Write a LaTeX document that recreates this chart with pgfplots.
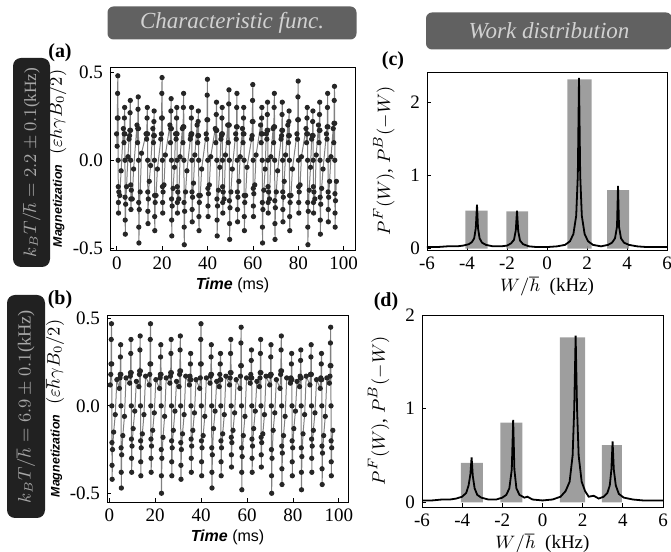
\documentclass[border=0pt]{standalone}
\usepackage{fontspec}
\setmainfont{Liberation Serif}
\setsansfont{Liberation Sans}
\usepackage{pgfplots}
\pgfplotsset{compat=1.18}
\definecolor{hdr}{gray}{0.38}
\definecolor{side}{gray}{0.13}
\definecolor{htext}{gray}{0.82}
\definecolor{bargray}{gray}{0.58}
\begin{document}
\begin{tikzpicture}
\path[use as bounding box] (0,0) rectangle (335.5pt,276pt);
\pgfplotsset{
  every axis/.append style={
    scale only axis, anchor=south west,
    axis line style={black, thin},
    tick style={black, thin},
    major tick length=2pt,
    tick align=inside,
    tick label style={font=\fontsize{9.5}{10}\selectfont},
    /pgf/number format/assume math mode=true,
    xtick pos=bottom, ytick pos=left,
    clip=true,
  },
  magn/.style={
    ytick={-0.5,0,0.5}, yticklabels={-0.5,0.0,0.5},
    xtick={0,20,40,60,80,100},
    ylabel={{\sffamily\bfseries\itshape\fontsize{6.2}{7}\selectfont Magnetization}\ \ {\fontsize{9}{10}\selectfont$(\varepsilon\hbar\gamma B_0/2)$}},
    xlabel={\sffamily\fontsize{8}{9}\selectfont\textbf{\textit{Time}} (ms)},
    xlabel style={yshift=3pt},
    ylabel style={at={(axis description cs:-0.215,0.5)}, anchor=center},
  },
  work/.style={
    xmin=-6, xmax=6, xtick={-6,-4,-2,0,2,4,6},
    ytick={0,1,2},
    ylabel={\fontsize{9.5}{10}\selectfont$P^F(W)$, $P^B(-W)$},
    xlabel={\fontsize{9.5}{10}\selectfont$W/\hbar$\ \ (kHz)},
    xlabel style={yshift=3pt},
    ylabel style={at={(axis description cs:-0.18,0.5)}, anchor=center},
  },
  sig/.style={color=black!50, line width=0.5pt, mark=*, mark size=1.05pt,
    mark options={fill=black!85, draw=black!85}},
  spk/.style={black, line width=0.9pt},
  bar/.style={fill=bargray, draw=none, opacity=0.9},
}
% ---------------- (a)
\begin{axis}[magn, at={(55pt,151pt)}, width=122.5pt, height=91.5pt,
  xmin=-3, xmax=105, ymin=-0.51, ymax=0.53]
\addplot[sig] coordinates {
(-0.1,0.15)(0.15,0.08)(0.25,0.24)(0.35,0.38)(0.45,0.48)(0.55,0.24)(0.6,0)(0.65,-0.15)(0.7,-0.24)(0.75,-0.30)(0.9,-0.18)(1.3,-0.20)(1.9,-0.06)
(2.9,0.18)(3.15,0.10)(3.25,0.15)(3.35,0.24)(3.45,0.30)(3.55,0.15)(3.6,0)(3.65,-0.21)(3.7,-0.34)(3.75,-0.42)(3.9,-0.25)(4.3,-0.15)(4.9,0.02)
(5.4,0.12)(5.65,0.14)(5.75,0.17)(5.85,0.27)(5.95,0.34)(6.05,0.17)(6.1,0)(6.15,-0.14)(6.2,-0.22)(6.25,-0.28)(6.4,-0.17)(6.8,-0.22)(7.4,-0.05)
(8.9,0.20)(9.15,0.10)(9.25,0.18)(9.35,0.29)(9.45,0.36)(9.55,0.18)(9.6,0)(9.65,-0.24)(9.7,-0.38)(9.75,-0.47)(9.9,-0.28)(10.3,-0.18)(10.9,0.04)
(12.9,0.15)(13.15,0.12)(13.25,0.15)(13.35,0.24)(13.45,0.30)(13.55,0.15)(13.6,0)(13.65,-0.18)(13.7,-0.29)(13.75,-0.36)(13.9,-0.22)(14.3,-0.12)(14.9,-0.03)
(15.9,0.18)(16.15,0.10)(16.25,0.14)(16.35,0.22)(16.45,0.28)(16.55,0.14)(16.6,0)(16.65,-0.20)(16.7,-0.32)(16.75,-0.40)(16.9,-0.24)(17.3,-0.20)(17.9,-0.05)
(19.4,0.12)(19.65,0.15)(19.75,0.24)(19.85,0.38)(19.95,0.47)(20.05,0.24)(20.1,0)(20.15,-0.15)(20.2,-0.24)(20.25,-0.30)(20.4,-0.18)(20.8,-0.14)(21.4,0.03)
(23.4,0.20)(23.65,0.10)(23.75,0.18)(23.85,0.28)(23.95,0.35)(24.05,0.18)(24.1,0)(24.15,-0.22)(24.2,-0.34)(24.25,-0.43)(24.4,-0.26)(24.8,-0.16)(25.4,-0.04)
(25.9,0.15)(26.15,0.12)(26.25,0.15)(26.35,0.24)(26.45,0.30)(26.55,0.15)(26.6,0)(26.65,-0.15)(26.7,-0.24)(26.75,-0.30)(26.9,-0.18)(27.3,-0.22)(27.9,0.02)
(28.9,0.18)(29.15,0.10)(29.25,0.19)(29.35,0.30)(29.45,0.38)(29.55,0.19)(29.6,0)(29.65,-0.24)(29.7,-0.38)(29.75,-0.48)(29.9,-0.29)(30.3,-0.18)(30.9,-0.06)
(32.4,0.12)(32.65,0.14)(32.75,0.15)(32.85,0.24)(32.95,0.30)(33.05,0.15)(33.1,0)(33.15,-0.18)(33.2,-0.28)(33.25,-0.35)(33.4,-0.21)(33.8,-0.13)(34.4,0.03)
(35.4,0.20)(35.65,0.10)(35.75,0.14)(35.85,0.22)(35.95,0.28)(36.05,0.14)(36.1,0)(36.15,-0.20)(36.2,-0.32)(36.25,-0.40)(36.4,-0.24)(36.8,-0.20)(37.4,-0.05)
(39.4,0.15)(39.65,0.12)(39.75,0.23)(39.85,0.37)(39.95,0.46)(40.05,0.23)(40.1,0)(40.15,-0.16)(40.2,-0.26)(40.25,-0.32)(40.4,-0.19)(40.8,-0.14)(41.4,0.02)
(43.4,0.18)(43.65,0.10)(43.75,0.17)(43.85,0.26)(43.95,0.33)(44.05,0.17)(44.1,0)(44.15,-0.22)(44.2,-0.34)(44.25,-0.43)(44.4,-0.26)(44.8,-0.17)(45.4,-0.04)
(45.9,0.12)(46.15,0.14)(46.25,0.15)(46.35,0.24)(46.45,0.30)(46.55,0.15)(46.6,0)(46.65,-0.15)(46.7,-0.24)(46.75,-0.30)(46.9,-0.18)(47.3,-0.22)(47.9,0.03)
(48.9,0.20)(49.15,0.10)(49.25,0.20)(49.35,0.32)(49.45,0.40)(49.55,0.20)(49.6,0)(49.65,-0.23)(49.7,-0.36)(49.75,-0.45)(49.9,-0.27)(50.3,-0.18)(50.9,-0.05)
(52.4,0.15)(52.65,0.12)(52.75,0.19)(52.85,0.30)(52.95,0.38)(53.05,0.19)(53.1,0)(53.15,-0.18)(53.2,-0.28)(53.25,-0.35)(53.4,-0.21)(53.8,-0.12)(54.4,0.02)
(55.4,0.18)(55.65,0.10)(55.75,0.15)(55.85,0.24)(55.95,0.30)(56.05,0.15)(56.1,0)(56.15,-0.20)(56.2,-0.32)(56.25,-0.40)(56.4,-0.24)(56.8,-0.20)(57.4,-0.04)
(59.4,0.12)(59.65,0.14)(59.75,0.22)(59.85,0.34)(59.95,0.43)(60.05,0.22)(60.1,0)(60.15,-0.16)(60.2,-0.26)(60.25,-0.32)(60.4,-0.19)(60.8,-0.14)(61.4,0.03)
(63.4,0.20)(63.65,0.10)(63.75,0.15)(63.85,0.24)(63.95,0.30)(64.05,0.15)(64.1,0)(64.15,-0.24)(64.2,-0.38)(64.25,-0.47)(64.4,-0.28)(64.8,-0.17)(65.4,-0.05)
(65.9,0.15)(66.15,0.12)(66.25,0.17)(66.35,0.26)(66.45,0.33)(66.55,0.17)(66.6,0)(66.65,-0.15)(66.7,-0.24)(66.75,-0.30)(66.9,-0.18)(67.3,-0.22)(67.9,0.02)
(68.9,0.18)(69.15,0.10)(69.25,0.19)(69.35,0.30)(69.45,0.38)(69.55,0.19)(69.6,0)(69.65,-0.23)(69.7,-0.36)(69.75,-0.45)(69.9,-0.27)(70.3,-0.18)(70.9,-0.06)
(72.4,0.12)(72.65,0.14)(72.75,0.17)(72.85,0.26)(72.95,0.33)(73.05,0.17)(73.1,0)(73.15,-0.18)(73.2,-0.28)(73.25,-0.35)(73.4,-0.21)(73.8,-0.12)(74.4,0.03)
(75.4,0.20)(75.65,0.10)(75.75,0.14)(75.85,0.22)(75.95,0.28)(76.05,0.14)(76.1,0)(76.15,-0.20)(76.2,-0.32)(76.25,-0.40)(76.4,-0.24)(76.8,-0.20)(77.4,-0.05)
(79.4,0.15)(79.65,0.12)(79.75,0.23)(79.85,0.36)(79.95,0.45)(80.05,0.23)(80.1,0)(80.15,-0.15)(80.2,-0.24)(80.25,-0.30)(80.4,-0.18)(80.8,-0.14)(81.4,0.02)
(83.4,0.18)(83.65,0.10)(83.75,0.15)(83.85,0.24)(83.95,0.30)(84.05,0.15)(84.1,0)(84.15,-0.24)(84.2,-0.38)(84.25,-0.48)(84.4,-0.29)(84.8,-0.17)(85.4,-0.04)
(85.9,0.12)(86.15,0.14)(86.25,0.14)(86.35,0.22)(86.45,0.28)(86.55,0.14)(86.6,0)(86.65,-0.15)(86.7,-0.24)(86.75,-0.30)(86.9,-0.18)(87.3,-0.22)(87.9,0.03)
(88.9,0.20)(89.15,0.10)(89.25,0.17)(89.35,0.26)(89.45,0.33)(89.55,0.17)(89.6,0)(89.65,-0.21)(89.7,-0.34)(89.75,-0.42)(89.9,-0.25)(90.3,-0.16)(90.9,-0.05)
(92.4,0.15)(92.65,0.12)(92.75,0.19)(92.85,0.30)(92.95,0.38)(93.05,0.19)(93.1,0)(93.15,-0.18)(93.2,-0.28)(93.25,-0.35)(93.4,-0.21)(93.8,-0.12)(94.4,0.02)
(95.4,0.18)(95.65,0.10)(95.75,0.21)(95.85,0.34)(95.95,0.42)(96.05,0.21)(96.1,0)(96.15,-0.19)(96.2,-0.30)(96.25,-0.38)(96.4,-0.23)(96.8,-0.12)
};
\end{axis}
% ---------------- (b)
\begin{axis}[magn, at={(53.5pt,25pt)}, width=120.5pt, height=93.5pt,
  xmin=-1, xmax=104, ymin=-0.55, ymax=0.52]
\addplot[sig] coordinates {
(0.4,0.12)(0.65,0.18)(0.75,0.24)(0.85,0.38)(0.95,0.47)(1.05,0.24)(1.1,0)(1.15,-0.21)(1.2,-0.34)(1.25,-0.42)(1.4,-0.25)(1.9,-0.15)(2.6,-0.05)(3.3,0.15)
(4.4,0.10)(4.65,0.16)(4.75,0.18)(4.85,0.28)(4.95,0.35)(5.05,0.18)(5.1,0)(5.15,-0.24)(5.2,-0.38)(5.25,-0.47)(5.4,-0.28)(5.9,-0.17)(6.6,-0.06)(7.3,0.16)
(8.9,0.13)(9.15,0.17)(9.25,0.19)(9.35,0.30)(9.45,0.38)(9.55,0.19)(9.6,0)(9.65,-0.19)(9.7,-0.30)(9.75,-0.38)(9.9,-0.23)(10.4,-0.13)(11.1,-0.03)(11.8,0.14)
(12.9,0.11)(13.15,0.18)(13.25,0.20)(13.35,0.32)(13.45,0.40)(13.55,0.20)(13.6,0)(13.65,-0.20)(13.7,-0.32)(13.75,-0.40)(13.9,-0.24)(14.4,-0.16)(15.1,-0.05)(15.8,0.17)
(17.4,0.12)(17.65,0.18)(17.75,0.24)(17.85,0.38)(17.95,0.47)(18.05,0.24)(18.1,0)(18.15,-0.19)(18.2,-0.30)(18.25,-0.38)(18.4,-0.23)(18.9,-0.14)(19.6,-0.04)(20.3,0.15)
(21.9,0.10)(22.15,0.16)(22.25,0.18)(22.35,0.28)(22.45,0.35)(22.55,0.18)(22.6,0)(22.65,-0.25)(22.7,-0.40)(22.75,-0.50)(22.9,-0.30)(23.4,-0.18)(24.1,-0.06)(24.8,0.16)
(26.4,0.13)(26.65,0.17)(26.75,0.19)(26.85,0.30)(26.95,0.38)(27.05,0.19)(27.1,0)(27.15,-0.20)(27.2,-0.32)(27.25,-0.40)(27.4,-0.24)(27.9,-0.14)(28.6,-0.03)(29.3,0.14)
(30.4,0.11)(30.65,0.18)(30.75,0.20)(30.85,0.32)(30.95,0.40)(31.05,0.20)(31.1,0)(31.15,-0.21)(31.2,-0.34)(31.25,-0.42)(31.4,-0.25)(31.9,-0.16)(32.6,-0.05)(33.3,0.17)
(34.9,0.12)(35.15,0.17)(35.25,0.15)(35.35,0.24)(35.45,0.30)(35.55,0.15)(35.6,0)(35.65,-0.19)(35.7,-0.30)(35.75,-0.38)(35.9,-0.23)(36.4,-0.14)(37.1,-0.04)(37.8,0.15)
(39.4,0.10)(39.65,0.16)(39.75,0.24)(39.85,0.38)(39.95,0.47)(40.05,0.24)(40.1,0)(40.15,-0.20)(40.2,-0.32)(40.25,-0.40)(40.4,-0.24)(40.9,-0.17)(41.6,-0.06)(42.3,0.16)
(43.9,0.13)(44.15,0.17)(44.25,0.18)(44.35,0.28)(44.45,0.35)(44.55,0.18)(44.6,0)(44.65,-0.24)(44.7,-0.38)(44.75,-0.47)(44.9,-0.28)(45.4,-0.13)(46.1,-0.03)(46.8,0.14)
(47.9,0.11)(48.15,0.18)(48.25,0.15)(48.35,0.24)(48.45,0.30)(48.55,0.15)(48.6,0)(48.65,-0.20)(48.7,-0.32)(48.75,-0.40)(48.9,-0.24)(49.4,-0.16)(50.1,-0.05)(50.8,0.17)
(52.4,0.12)(52.65,0.16)(52.75,0.19)(52.85,0.30)(52.95,0.38)(53.05,0.19)(53.1,0)(53.15,-0.18)(53.2,-0.28)(53.25,-0.35)(53.4,-0.21)(53.9,-0.14)(54.6,-0.04)(55.3,0.15)
(56.9,0.10)(57.15,0.17)(57.25,0.23)(57.35,0.36)(57.45,0.45)(57.55,0.23)(57.6,0)(57.65,-0.24)(57.7,-0.38)(57.75,-0.48)(57.9,-0.29)(58.4,-0.17)(59.1,-0.06)(59.8,0.16)
(61.4,0.13)(61.65,0.18)(61.75,0.16)(61.85,0.26)(61.95,0.32)(62.05,0.16)(62.1,0)(62.15,-0.19)(62.2,-0.30)(62.25,-0.38)(62.4,-0.23)(62.9,-0.13)(63.6,-0.03)(64.3,0.14)
(65.4,0.11)(65.65,0.16)(65.75,0.19)(65.85,0.30)(65.95,0.38)(66.05,0.19)(66.1,0)(66.15,-0.18)(66.2,-0.28)(66.25,-0.35)(66.4,-0.21)(66.9,-0.16)(67.6,-0.05)(68.3,0.17)
(69.9,0.12)(70.15,0.17)(70.25,0.18)(70.35,0.28)(70.45,0.35)(70.55,0.18)(70.6,0)(70.65,-0.25)(70.7,-0.40)(70.75,-0.50)(70.9,-0.30)(71.4,-0.14)(72.1,-0.04)(72.8,0.15)
(74.4,0.10)(74.65,0.18)(74.75,0.20)(74.85,0.32)(74.95,0.40)(75.05,0.20)(75.1,0)(75.15,-0.23)(75.2,-0.36)(75.25,-0.45)(75.4,-0.27)(75.9,-0.17)(76.6,-0.06)(77.3,0.16)
(78.9,0.13)(79.15,0.16)(79.25,0.15)(79.35,0.24)(79.45,0.30)(79.55,0.15)(79.6,0)(79.65,-0.20)(79.7,-0.32)(79.75,-0.40)(79.9,-0.24)(80.4,-0.13)(81.1,-0.03)(81.8,0.14)
(82.9,0.11)(83.15,0.17)(83.25,0.16)(83.35,0.26)(83.45,0.32)(83.55,0.16)(83.6,0)(83.65,-0.24)(83.7,-0.38)(83.75,-0.48)(83.9,-0.29)(84.4,-0.16)(85.1,-0.05)(85.8,0.17)
(87.4,0.12)(87.65,0.18)(87.75,0.18)(87.85,0.28)(87.95,0.35)(88.05,0.18)(88.1,0)(88.15,-0.19)(88.2,-0.30)(88.25,-0.38)(88.4,-0.23)(88.9,-0.14)(89.6,-0.04)(90.3,0.15)
(91.9,0.10)(92.15,0.16)(92.25,0.15)(92.35,0.24)(92.45,0.30)(92.55,0.15)(92.6,0)(92.65,-0.23)(92.7,-0.36)(92.75,-0.45)(92.9,-0.27)(93.4,-0.17)(94.1,-0.06)(94.8,0.16)
(95.9,0.13)(96.15,0.17)(96.25,0.23)(96.35,0.36)(96.45,0.45)(96.55,0.23)(96.6,0)(96.65,-0.20)(96.7,-0.32)(96.75,-0.40)(96.9,-0.24)(97.4,-0.14)
};
\end{axis}
% ---------------- (c)
\begin{axis}[work, at={(213.5pt,151pt)}, width=120pt, height=89pt,
  ymin=-0.02, ymax=2.42]
\addplot[bar] coordinates {(-4.08,0)(-4.08,0.52)(-2.97,0.52)(-2.97,0)} \closedcycle;
\addplot[bar] coordinates {(-2.03,0)(-2.03,0.51)(-0.95,0.51)(-0.95,0)} \closedcycle;
\addplot[bar] coordinates {(1.02,0)(1.02,2.32)(2.23,2.32)(2.23,0)} \closedcycle;
\addplot[bar] coordinates {(3.0,0)(3.0,0.80)(4.1,0.80)(4.1,0)} \closedcycle;
\addplot[spk] coordinates {
(-6,0.02)(-5.5,0.02)(-5,0.03)(-4.5,0.03)(-4.2,0.04)(-3.9,0.06)(-3.75,0.09)(-3.64,0.14)(-3.56,0.28)(-3.5,0.60)(-3.45,0.28)(-3.37,0.14)(-3.25,0.08)(-3.05,0.05)(-2.7,0.03)(-2.3,0.03)(-2.0,0.04)(-1.8,0.07)(-1.65,0.12)(-1.56,0.25)(-1.5,0.52)(-1.44,0.24)(-1.35,0.11)(-1.2,0.06)(-0.9,0.03)(-0.5,0.02)(0,0.02)(0.5,0.03)(0.9,0.05)(1.15,0.10)(1.32,0.2)(1.46,0.45)(1.54,1.0)(1.6,2.34)(1.66,1.0)(1.74,0.45)(1.88,0.2)(2.05,0.10)(2.3,0.05)(2.7,0.03)(3.05,0.05)(3.25,0.08)(3.4,0.14)(3.5,0.3)(3.55,0.86)(3.6,0.3)(3.7,0.14)(3.85,0.08)(4.1,0.05)(4.5,0.03)(5,0.02)(5.5,0.02)(6,0.02)
};
\end{axis}
% ---------------- (d)
\begin{axis}[work, at={(211pt,22.5pt)}, width=120.5pt, height=96pt,
  ymin=-0.05, ymax=2.0]
\addplot[bar] coordinates {(-4.06,0)(-4.06,0.42)(-2.97,0.42)(-2.97,0)} \closedcycle;
\addplot[bar] coordinates {(-2.1,0)(-2.1,0.85)(-1.0,0.85)(-1.0,0)} \closedcycle;
\addplot[bar] coordinates {(0.87,0)(0.87,1.76)(2.12,1.76)(2.12,0)} \closedcycle;
\addplot[bar] coordinates {(2.96,0)(2.96,0.61)(3.95,0.61)(3.95,0)} \closedcycle;
\addplot[spk] coordinates {
(-6,0.02)(-5.5,0.02)(-5,0.03)(-4.6,0.03)(-4.3,0.04)(-4.0,0.06)(-3.8,0.10)(-3.68,0.18)(-3.59,0.30)(-3.53,0.48)(-3.47,0.28)(-3.38,0.15)(-3.25,0.08)(-3.05,0.05)(-2.7,0.03)(-2.3,0.03)(-2.0,0.05)(-1.8,0.08)(-1.65,0.15)(-1.53,0.35)(-1.46,0.88)(-1.4,0.35)(-1.3,0.15)(-1.15,0.08)(-0.9,0.05)(-0.75,0.06)(-0.5,0.03)(0,0.02)(0.5,0.03)(0.9,0.06)(1.15,0.12)(1.35,0.22)(1.5,0.5)(1.58,1.0)(1.65,1.78)(1.72,1.0)(1.8,0.5)(1.95,0.22)(2.12,0.12)(2.3,0.06)(2.55,0.07)(2.8,0.04)(3.05,0.06)(3.23,0.10)(3.35,0.18)(3.43,0.35)(3.49,0.65)(3.55,0.35)(3.65,0.18)(3.8,0.09)(4.05,0.05)(4.5,0.03)(5,0.02)(5.5,0.02)(6,0.02)
};
\end{axis}
% ---------------- decorations
\node[fill=hdr, rounded corners=3pt, minimum width=124.5pt, minimum height=16.5pt,
  text=htext, inner sep=0pt, font=\itshape\fontsize{11.5}{12}\selectfont] at (116pt,264.5pt) {Characteristic func.};
\node[fill=hdr, rounded corners=3pt, minimum width=123pt, minimum height=18.5pt,
  text=htext, inner sep=0pt, font=\itshape\fontsize{11.5}{12}\selectfont] at (274.5pt,260.5pt) {Work distribution};
\node[rotate=90, fill=side, rounded corners=4pt, minimum width=104.5pt, minimum height=18.5pt,
  text=htext!80!black, inner sep=0pt, font=\fontsize{8.6}{10}\selectfont] at (15.75pt,194.75pt) {$k_BT/\hbar = 2.2\pm0.1$(kHz)};
\node[rotate=90, fill=side, rounded corners=4pt, minimum width=111.5pt, minimum height=19pt,
  text=htext!80!black, inner sep=0pt, font=\fontsize{9.2}{10}\selectfont] at (13pt,72.75pt) {$k_BT/\hbar = 6.9\pm0.1$(kHz)};
\node[font=\bfseries\fontsize{10}{12}\selectfont] at (30pt,249.5pt) {(a)};
\node[font=\bfseries\fontsize{10}{12}\selectfont] at (30pt,126pt) {(b)};
\node[font=\bfseries\fontsize{10}{12}\selectfont] at (196.5pt,245.5pt) {(c)};
\node[font=\bfseries\fontsize{10}{12}\selectfont] at (193pt,125pt) {(d)};
\end{tikzpicture}
\end{document}
